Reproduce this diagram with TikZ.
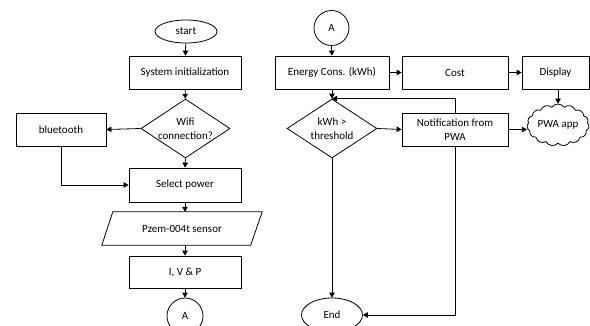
\documentclass[tikz,border=0pt]{standalone}
\usepackage{fontspec}
\setmainfont{Carlito}
\usetikzlibrary{shapes.geometric,shapes.symbols,arrows.meta}
\begin{document}
\begin{tikzpicture}[x=1pt,y=-1pt,
  every node/.style={font=\fontsize{11}{13.5}\selectfont, inner sep=0pt, align=center},
  box/.style={draw, rectangle, line width=0.8pt, minimum height=33pt},
  term/.style={draw, ellipse, line width=0.8pt, minimum width=62pt, minimum height=23pt},
  conn/.style={draw, circle, line width=0.8pt, minimum size=35pt},
  dec/.style={draw, diamond, line width=0.8pt, aspect=1.5, minimum width=89pt, minimum height=59pt},
  line/.style={line width=0.8pt},
  arr/.style={line width=0.8pt, -{Triangle[length=5pt,width=5.5pt]}},
]
\useasboundingbox (0,0) rectangle (590,325);
% left column
\node[term] (start) at (186,31.5) {start};
\node[box, minimum width=112pt] (init) at (185,72.5) {System initialization};
\node[dec] (wifi) at (185.5,128.5) {Wifi\\connection?};
\node[box, minimum width=90pt] (bt) at (61,129.5) {bluetooth};
\node[box, minimum width=112pt, minimum height=34pt] (sel) at (185,185) {Select power};
\node[rectangle, minimum width=149pt, minimum height=33pt] (pzem) at (182,228.5) {Pzem-004t sensor};
\draw[line] ([xshift=5.5pt]pzem.north west) -- ([xshift=5.5pt]pzem.north east)
  -- ([xshift=-6pt]pzem.south east) -- ([xshift=-5.5pt]pzem.south west) -- cycle;
\node[box, minimum width=112pt, minimum height=32pt] (ivp) at (185,272) {I, V \& P};
\node[conn, minimum size=36pt] (a1) at (185,316) {A};
% right column
\node[conn] (a2) at (331.5,28) {A};
\node[box, minimum width=114pt] (energy) at (332,72.5) {Energy Cons. (kWh)};
\node[box, minimum width=106pt] (cost) at (455,72.5) {Cost};
\node[box, minimum width=67pt] (disp) at (555.5,72.5) {Display};
\node[dec, minimum width=90pt] (kwh) at (332,128.5) {kWh \textgreater\\threshold};
\node[box, minimum width=106pt] (notif) at (455,129.5) {Notification from\\PWA};
\node[draw, cloud, line width=0.8pt, cloud puffs=15, cloud puff arc=110, aspect=1.5, minimum width=62pt, minimum height=42pt] (cloud) at (558,125) {\makebox[20pt]{PWA app}};
\node[term, minimum width=61pt, minimum height=34pt] (end) at (332,315) {End};
% connectors
\draw[arr] (start) -- (init);
\draw[arr] (init) -- (wifi);
\draw[arr] (wifi.west) -- (bt.east);
\draw[arr] (wifi.south) -- (sel.north);
\draw[arr] (bt.south) |- (sel.west);
\draw[arr] (sel.south) -- (sel.south |- pzem.north);
\draw[arr] (ivp.north |- pzem.south) -- (ivp.north);
\draw[arr] (ivp.south) -- (a1.north);
\draw[arr] (a2.south) -- (energy.north);
\draw[arr] (energy.east) -- (cost.west);
\draw[arr] (cost.east) -- (disp.west);
\draw[arr] (energy.south) -- (kwh.north);
\draw[arr] (cloud.north |- disp.south) -- (cloud.north);
\draw[arr] (kwh.east) -- (notif.west);
\draw[arr] (notif.east) -- (notif.east -| cloud.west);
\draw[arr] (notif.north) |- (kwh.north);
\draw[arr] (kwh.south) -- (end.north);
\draw[arr] (notif.south) |- (end.east);
\end{tikzpicture}
\end{document}
